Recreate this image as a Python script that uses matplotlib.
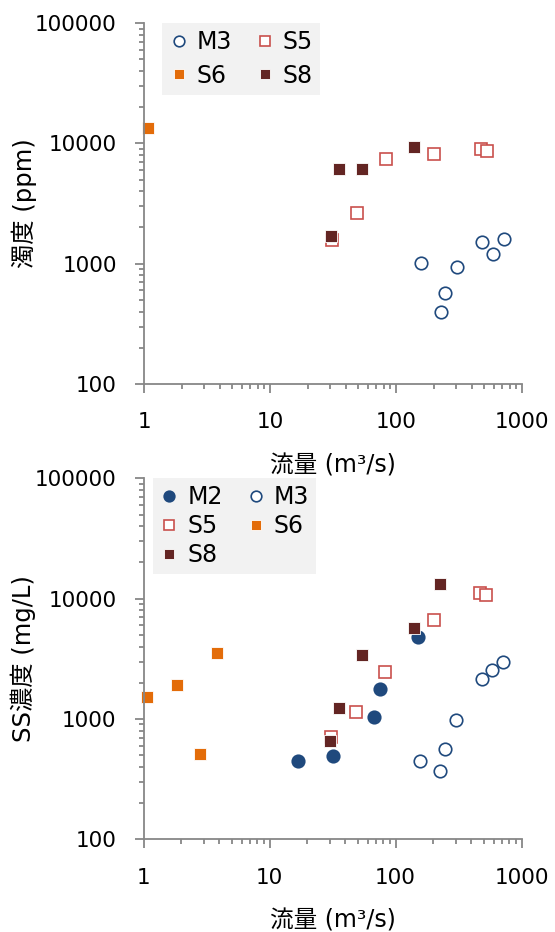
import matplotlib
matplotlib.use('Agg')
import matplotlib.pyplot as plt
from matplotlib.ticker import LogLocator, NullFormatter

plt.rcParams['font.family'] = ['DejaVu Sans', 'Noto Sans CJK JP']

# ---- data ----
# top panel: turbidity (ppm) vs flow (m3/s)
top_m3_q = [159, 305, 247, 226, 484, 589, 714]
top_m3_v = [1020, 935, 567, 397, 1515, 1205, 1600]
top_s5_q = [31, 49, 83, 202, 475, 527]
top_s5_v = [1575, 2640, 7420, 8210, 9040, 8600]
top_s6_q = [1.08]
top_s6_v = [13300]
top_s8_q = [30.6, 35.4, 54, 140]
top_s8_v = [1700, 6160, 6100, 9280]

# bottom panel: SS concentration (mg/L) vs flow (m3/s)
bot_m2_q = [16.9, 31.9, 67, 75.7, 150]
bot_m2_v = [448, 490, 1033, 1786, 4805]
bot_m3_q = [157, 224, 246, 302, 483, 583, 709]
bot_m3_v = [448, 367, 560, 987, 2150, 2540, 2977]
bot_s5_q = [30.8, 48.9, 82, 202, 471, 523]
bot_s5_v = [705, 1150, 2460, 6610, 11220, 10670]
bot_s6_q = [1.07, 1.84, 3.83, 2.79]
bot_s6_v = [1530, 1930, 3560, 509]
bot_s8_q = [30.4, 35.4, 53.9, 139, 227]
bot_s8_v = [660, 1235, 3425, 5706, 13250]

x_ticks = [1, 10, 100, 1000]
y_ticks = [100, 1000, 10000, 100000]
x_label = '流量 (m³/s)'
y_label_top = '濁度 (ppm)'
y_label_bot = 'SS濃度 (mg/L)'

C_BLUE = '#1F497D'
C_S5 = '#C9504D'
C_S6 = '#E36C09'
C_S8 = '#632523'
AXCOL = '#878787'

fig = plt.figure(figsize=(5.55, 9.32), dpi=100)
ax1 = fig.add_axes([144/555, 1 - 384/932, 378/555, 361/932])
ax2 = fig.add_axes([143.5/555, 1 - 839.3/932, 378/555, 361/932])


def style(ax, ylab):
    ax.set_xscale('log')
    ax.set_yscale('log')
    ax.set_xlim(1, 1000)
    ax.set_ylim(100, 100000)
    for s in ['top', 'right']:
        ax.spines[s].set_visible(False)
    for s in ['left', 'bottom']:
        ax.spines[s].set_color(AXCOL)
        ax.spines[s].set_linewidth(1.3)
    ax.xaxis.set_minor_locator(LogLocator(base=10, subs=range(2, 10), numticks=20))
    ax.yaxis.set_minor_locator(LogLocator(base=10, subs=range(2, 10), numticks=20))
    ax.set_xticks(x_ticks)
    ax.set_xticklabels([str(v) for v in x_ticks])
    ax.set_yticks(y_ticks)
    ax.set_yticklabels([str(v) for v in y_ticks])
    ax.xaxis.set_minor_formatter(NullFormatter())
    ax.yaxis.set_minor_formatter(NullFormatter())
    ax.tick_params(which='major', direction='out', length=6.5, width=1.3,
                   color=AXCOL, labelsize=15.5, labelcolor='black')
    ax.tick_params(axis='x', which='major', pad=14)
    ax.tick_params(axis='y', which='major', pad=13)
    ax.tick_params(which='minor', direction='out', length=3.5, width=1.3, color=AXCOL)
    ax.set_xlabel(x_label, fontsize=17, labelpad=15)
    ax.set_ylabel(ylab, fontsize=17.5)
    ax.yaxis.set_label_coords((37 - 144) / 378, 0.5)


def circ(ax, q, v, filled, lab):
    return ax.plot(q, v, 'o', ms=9, mec=C_BLUE, mew=1.2,
                   mfc=C_BLUE if filled else 'white', label=lab, clip_on=False)[0]


def sq(ax, q, v, col, filled, lab):
    return ax.plot(q, v, 's', ms=8, mec=col if not filled else 'white',
                   mew=1.2 if not filled else 0.6,
                   mfc=col if filled else 'white', label=lab, clip_on=False)[0]


# top
style(ax1, y_label_top)
h_m3 = circ(ax1, top_m3_q, top_m3_v, False, 'M3')
h_s5 = sq(ax1, top_s5_q, top_s5_v, C_S5, False, 'S5')
h_s6 = sq(ax1, top_s6_q, top_s6_v, C_S6, True, 'S6')
h_s8 = sq(ax1, top_s8_q, top_s8_v, C_S8, True, 'S8')
ax1.legend([h_m3, h_s6, h_s5, h_s8], ['M3', 'S6', 'S5', 'S8'], ncol=2,
           loc='upper left', bbox_to_anchor=(0.048, 1.0), borderaxespad=0,
           fontsize=17, frameon=True, fancybox=False, framealpha=1,
           facecolor='#F2F2F2', edgecolor='none', handlelength=0.8,
           handletextpad=0.35, columnspacing=1.0, labelspacing=0.4,
           borderpad=0.3, markerscale=0.85)

# bottom
style(ax2, y_label_bot)
g_m2 = circ(ax2, bot_m2_q, bot_m2_v, True, 'M2')
g_m3 = circ(ax2, bot_m3_q, bot_m3_v, False, 'M3')
g_s5 = sq(ax2, bot_s5_q, bot_s5_v, C_S5, False, 'S5')
g_s6 = sq(ax2, bot_s6_q, bot_s6_v, C_S6, True, 'S6')
g_s8 = sq(ax2, bot_s8_q, bot_s8_v, C_S8, True, 'S8')
ax2.legend([g_m2, g_s5, g_s8, g_m3, g_s6], ['M2', 'S5', 'S8', 'M3', 'S6'], ncol=2,
           loc='upper left', bbox_to_anchor=(0.025, 1.0), borderaxespad=0,
           fontsize=17, frameon=True, fancybox=False, framealpha=1,
           facecolor='#F2F2F2', edgecolor='none', handlelength=0.8,
           handletextpad=0.35, columnspacing=1.0, labelspacing=0.2,
           borderpad=0.3, markerscale=0.85)

fig.savefig('out.png', dpi=100)
